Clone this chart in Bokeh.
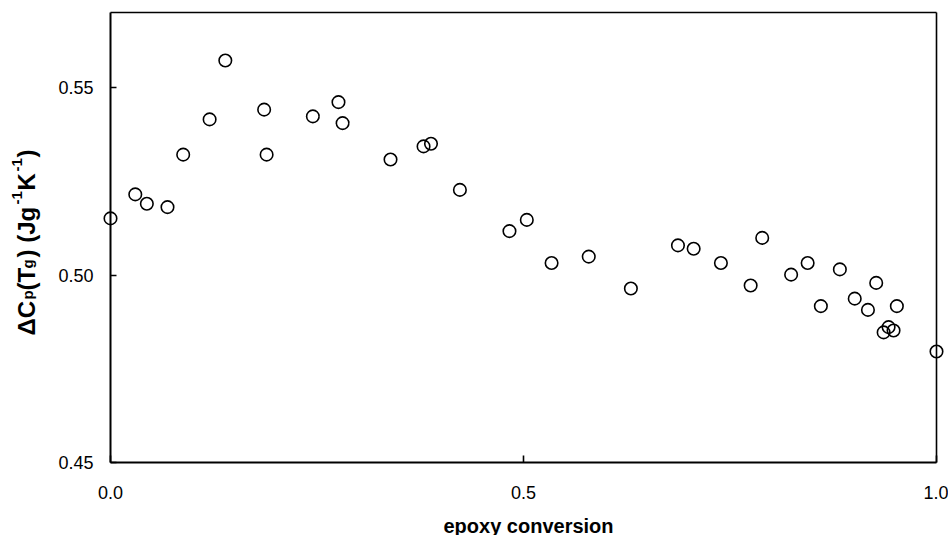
import math
from bokeh.plotting import figure
from bokeh.models import Range1d, FixedTicker, Label, LinearAxis
from bokeh.embed import file_html
from bokeh.resources import INLINE

# ---- data ----
conversion = [0.000, 0.030, 0.044, 0.069, 0.088, 0.120, 0.139, 0.186, 0.189, 0.245,
              0.276, 0.281, 0.339, 0.379, 0.388, 0.423, 0.483, 0.504, 0.534, 0.579,
              0.630, 0.687, 0.706, 0.739, 0.775, 0.789, 0.824, 0.844, 0.860, 0.883,
              0.901, 0.917, 0.927, 0.952, 0.936, 0.942, 0.948, 1.000]
delta_cp = [0.5151, 0.5215, 0.5190, 0.5181, 0.5321, 0.5415, 0.5572, 0.5441, 0.5321, 0.5423,
            0.5461, 0.5405, 0.5308, 0.5343, 0.5350, 0.5227, 0.5117, 0.5147, 0.5032, 0.5049,
            0.4964, 0.5079, 0.5070, 0.5032, 0.4972, 0.5099, 0.5001, 0.5032, 0.4917, 0.5015,
            0.4937, 0.4907, 0.4979, 0.4917, 0.4847, 0.4861, 0.4852, 0.4796]

x_ticks = [0.0, 0.5, 1.0]
x_tick_labels = ["0.0", "0.5", "1.0"]
y_ticks = [0.45, 0.50, 0.55]
y_tick_labels = ["0.45", "0.50", "0.55"]
x_bounds = (0.0, 1.0)
y_bounds = (0.45, 0.57)
x_title = "epoxy conversion"
# y title pieces: (text, kind) kind: main / sub / sup
y_title_parts = [("ΔC", "main"), ("p", "sub"), ("(T", "main"), ("g", "sub"),
                 (") (Jg", "main"), ("-1", "sup"), ("K", "main"), ("-1", "sup"), (")", "main")]

FONT = "Liberation Sans"

# canvas geometry (pixels): the axes box spans x 110..936, y 12..462
W, H = 948, 535
BOX_L, BOX_R, BOX_T, BOX_B = 110, 936, 12, 462
sx = (x_bounds[1] - x_bounds[0]) / (BOX_R - BOX_L)
sy = (y_bounds[1] - y_bounds[0]) / (BOX_B - BOX_T)
x_range = Range1d(x_bounds[0] - BOX_L * sx, x_bounds[1] + (W - BOX_R) * sx)
y_range = Range1d(y_bounds[0] - (H - BOX_B) * sy, y_bounds[1] + BOX_T * sy)

p = figure(width=W, height=H, x_range=x_range, y_range=y_range,
           x_axis_type=None, y_axis_type=None,
           min_border=0, min_border_left=0, min_border_right=0,
           min_border_top=0, min_border_bottom=0,
           output_backend="svg", toolbar_location=None, tools="")
p.background_fill_color = "white"
p.border_fill_color = "white"
p.outline_line_color = None
p.xgrid.grid_line_color = None
p.ygrid.grid_line_color = None


def style_axis(ax, tick_in):
    ax.axis_line_color = "black"
    ax.axis_line_width = 2
    ax.major_tick_line_color = "black"
    ax.major_tick_line_width = 1.6
    ax.major_tick_out = 0
    ax.major_tick_in = tick_in
    ax.minor_tick_line_color = None
    ax.major_label_text_font = FONT
    ax.major_label_text_font_size = "18px"
    ax.major_label_text_color = "black"


xaxis = LinearAxis(fixed_location=y_bounds[0], bounds=x_bounds,
                   ticker=FixedTicker(ticks=x_ticks),
                   major_label_overrides=dict(zip(x_ticks, x_tick_labels)))
style_axis(xaxis, 7)
xaxis.major_label_standoff = 23
p.add_layout(xaxis, "below")

yaxis = LinearAxis(fixed_location=x_bounds[0], bounds=y_bounds,
                   ticker=FixedTicker(ticks=y_ticks),
                   major_label_overrides=dict(zip(y_ticks, y_tick_labels)))
style_axis(yaxis, 6)
yaxis.major_label_standoff = 17
p.add_layout(yaxis, "left")

# frame lines on top and right (axes without ticks)
top = LinearAxis(fixed_location=y_bounds[1], bounds=x_bounds, ticker=FixedTicker(ticks=[]))
right = LinearAxis(fixed_location=x_bounds[1], bounds=y_bounds, ticker=FixedTicker(ticks=[]))
for ax in (top, right):
    ax.axis_line_color = "black"
    ax.axis_line_width = 1.6
    ax.major_tick_line_color = None
    ax.minor_tick_line_color = None
    ax.major_label_text_color = None
p.add_layout(top, "above")
p.add_layout(right, "right")

p.scatter(conversion, delta_cp, marker="circle", size=12.5,
          fill_color=None, line_color="black", line_width=1.6)

# x axis title
p.add_layout(Label(x=0.5, y=y_bounds[0], x_units="data", y_units="data",
                   text=x_title, text_font=FONT, text_font_size="20px",
                   text_font_style="bold", text_color="black",
                   text_align="center", text_baseline="alphabetic",
                   x_offset=5, y_offset=-63))

# y axis title, built from pieces (rotated 90 degrees)
sizes = {"main": "24px", "sub": "15px", "sup": "15px"}
base_x = {"main": -84, "sub": -83, "sup": -94}
starts = [127, 163, 172, 194, 205, 258, 272, 291, 305]  # distance up from the axes bottom
for (txt, kind), start in zip(y_title_parts, starts):
    p.add_layout(Label(x=x_bounds[0], y=y_bounds[0], x_units="data", y_units="data",
                       text=txt, text_font=FONT, text_font_size=sizes[kind],
                       text_font_style="bold", text_color="black",
                       angle=math.pi / 2, text_align="left", text_baseline="alphabetic",
                       x_offset=base_x[kind], y_offset=start))

open("out.html", "w").write(file_html(p, INLINE))
